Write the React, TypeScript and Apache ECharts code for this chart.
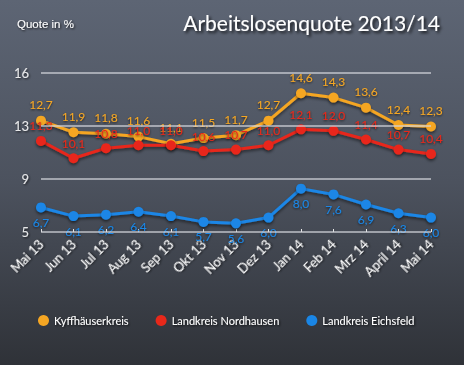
import React, { useEffect, useRef } from "react";
import * as echarts from "echarts";

const months = ["Mai 13", "Jun 13", "Jul 13", "Aug 13", "Sep 13", "Okt 13", "Nov 13", "Dez 13", "Jan 14", "Feb 14", "Mrz 14", "April 14", "Mai 14"];
const kyffhaeuser = [12.7, 11.9, 11.8, 11.6, 11.1, 11.5, 11.7, 12.7, 14.6, 14.3, 13.6, 12.4, 12.3];
const nordhausen = [11.3, 10.1, 10.8, 11.0, 11.0, 10.6, 10.7, 11.0, 12.1, 12.0, 11.4, 10.7, 10.4];
const eichsfeld = [6.7, 6.1, 6.2, 6.4, 6.1, 5.7, 5.6, 6.0, 8.0, 7.6, 6.9, 6.3, 6.0];
const yTickValues = [5, 26 / 3, 37 / 3, 16];
const yTickLabels = ["5", "9", "13", "16"];

const FONT = "Lato, 'DejaVu Sans', sans-serif";
const SHADOW = { textShadowColor: "rgba(0,0,0,0.8)", textShadowBlur: 2, textShadowOffsetX: 1, textShadowOffsetY: 1 };

export default function App() {
  const ref = useRef<HTMLDivElement>(null);
  useEffect(() => {
    if (!ref.current) return;
    const chart = echarts.init(ref.current, null, { renderer: "svg" });
    const fmt = (p: any) => Number(p.value).toFixed(1).replace(".", ",");
    const mk = (name: string, data: number[], color: string, pos: string, dist: number) => ({
      name,
      type: "line",
      data,
      z: 3,
      symbol: "circle",
      symbolSize: 10,
      lineStyle: { color, width: 3, shadowColor: "rgba(0,0,0,0.5)", shadowBlur: 3, shadowOffsetY: 2 },
      itemStyle: { color, shadowColor: "rgba(0,0,0,0.5)", shadowBlur: 3, shadowOffsetY: 2 },
      label: {
        show: true,
        position: pos,
        distance: dist,
        color,
        fontFamily: FONT,
        fontSize: 12,
        formatter: fmt,
        textShadowColor: "rgba(0,0,0,0.7)",
        textShadowBlur: 2,
        textShadowOffsetY: 1,
      },
    });
    chart.setOption({
      animation: false,
      backgroundColor: {
        type: "linear", x: 0, y: 0, x2: 0, y2: 1,
        colorStops: [
          { offset: 0, color: "#5d6574" },
          { offset: 0.5, color: "#4c525e" },
          { offset: 1, color: "#2f3238" },
        ],
      },
      title: [
        {
          text: "Arbeitslosenquote 2013/14",
          right: 19,
          top: 7,
          textStyle: { color: "#ffffff", fontFamily: FONT, fontWeight: "normal", fontSize: 21, textShadowColor: "rgba(0,0,0,0.8)", textShadowBlur: 3, textShadowOffsetX: 2, textShadowOffsetY: 2 },
        },
        {
          text: "Quote in %",
          left: 12,
          top: 13,
          textStyle: { color: "#ffffff", fontFamily: "'Liberation Sans', Arial, sans-serif", fontWeight: "normal", fontSize: 11.5, ...SHADOW },
        },
      ],
      legend: {
        bottom: 34,
        left: 33,
        itemGap: 27,
        itemWidth: 11,
        itemHeight: 11,
        icon: "circle",
        textStyle: { color: "#ffffff", fontFamily: FONT, fontSize: 11, ...SHADOW },
        data: ["Kyffhäuserkreis", "Landkreis Nordhausen", "Landkreis Eichsfeld"],
      },
      grid: { left: 41, right: 33, top: 73, bottom: 133 },
      xAxis: {
        type: "category",
        data: months,
        boundaryGap: false,
        axisLine: { lineStyle: { color: "#e6e6e6", width: 2, shadowColor: "rgba(0,0,0,0.5)", shadowBlur: 2, shadowOffsetY: 1 } },
        axisTick: { show: true, inside: true, length: 3, lineStyle: { color: "#e6e6e6" } },
        axisLabel: {
          color: "#ffffff",
          rotate: 45,
          fontFamily: FONT,
          fontSize: 13,
          margin: 10,
          ...SHADOW,
        },
      },
      yAxis: {
        type: "value",
        min: 5,
        max: 16,
        axisLine: { show: false },
        axisTick: { show: false },
        splitLine: { show: false },
        axisLabel: { show: false },
      },
      series: [
        {
          name: "grid",
          type: "line",
          data: eichsfeld,
          z: 1,
          silent: true,
          showSymbol: false,
          symbol: "none",
          lineStyle: { width: 0, color: "rgba(0,0,0,0)" },
          label: { show: false },
          markLine: {
            silent: true,
            symbol: ["none", "none"],
            precision: 4,
            lineStyle: { type: "solid", color: "#d4d6dc", opacity: 0.85, width: 1.5 },
            label: {
              show: true,
              position: "start",
              distance: 12,
              color: "#ffffff",
              fontFamily: FONT,
              fontSize: 13,
              ...SHADOW,
            },
            emphasis: { disabled: true },
            data: yTickValues.map((v, i) => ({ yAxis: v, label: { formatter: yTickLabels[i] } })),
          },
        },
        mk("Kyffhäuserkreis", kyffhaeuser, "#f5a623", "top", 5),
        mk("Landkreis Nordhausen", nordhausen, "#e8281a", "top", 4),
        mk("Landkreis Eichsfeld", eichsfeld, "#1a86e6", "bottom", 4),
      ],
    });
    return () => chart.dispose();
  }, []);
  return <div ref={ref} style={{ width: 464, height: 365, position: "absolute", left: 0, top: 0 }} />;
}
